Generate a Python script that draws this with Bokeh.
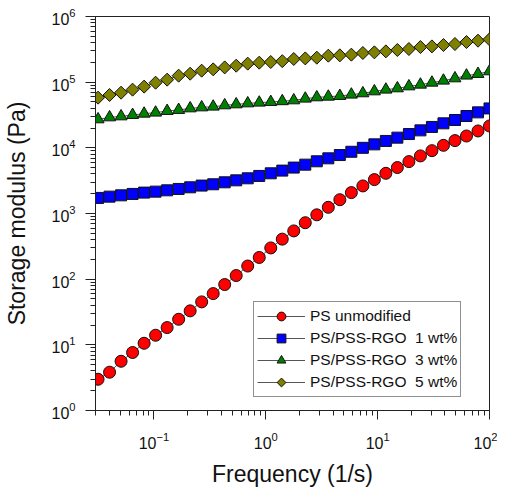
import numpy as np
from bokeh.plotting import figure
from bokeh.models import Legend, LegendItem, LogTicker, LogTickFormatter, CustomJS
from bokeh.embed import file_html
from bokeh.resources import INLINE

freq = [0.03162, 0.04008, 0.05079, 0.06438, 0.0816, 0.1034, 0.1311, 0.1662,
        0.2106, 0.2669, 0.3384, 0.4289, 0.5436, 0.6890, 0.8733, 1.107, 1.403,
        1.778, 2.254, 2.857, 3.621, 4.590, 5.818, 7.375, 9.346, 11.84, 15.01,
        19.03, 24.12, 30.57, 38.75, 49.12, 62.26, 78.91, 100.0]

ps_unmod = [2.99, 3.83, 5.62, 7.64, 10.57, 14.0, 18.3, 24.5, 32.9, 45.1, 60.3,
            82.8, 113.5, 158.5, 214, 299, 407, 543, 724, 955, 1242, 1622, 2080,
            2630, 3281, 4093, 5012, 6166, 7534, 9057, 10914, 12880, 15136,
            18072, 21528]

rgo_1 = [1726, 1807, 1892, 1986, 2080, 2153, 2254, 2366, 2506, 2661, 2786, 2985,
         3199, 3436, 3733, 4093, 4498, 5000, 5546, 6237, 6918, 7762, 8710,
         10000, 11298, 12735, 14289, 16218, 18450, 20797, 23605, 26546, 30549,
         34674, 39811]

rgo_3 = [27164, 29107, 30130, 31623, 33113, 34356, 36392, 37757, 39902, 41305,
         42364, 44361, 45920, 47534, 48753, 49888, 51286, 52845, 56105, 58749,
         60117, 61660, 64565, 67608, 72444, 76913, 80538, 86298, 91622, 98175,
         105441, 114288, 125893, 133352, 146218]

rgo_5 = [58076, 63826, 69183, 76913, 85507, 98175, 109144, 125603, 134586,
         149624, 156675, 167880, 178238, 191426, 198153, 202768, 208930, 225424,
         230144, 236048, 252930, 255859, 262422, 277971, 284446, 294442, 309030,
         319890, 342768, 350752, 368129, 381066, 408319, 428549, 448745]

labels = ["PS unmodified", "PS/PSS-RGO  1 wt%", "PS/PSS-RGO  3 wt%", "PS/PSS-RGO  5 wt%"]

FONT = "Liberation Sans"

diamond_def = CustomJS(code="""
try {
  const d = cb_data || {};
  const ctx = d.ctx, i = d.i, r = d.r, vis = d.visuals;
  ctx.beginPath();
  ctx.moveTo(0, -r);
  ctx.lineTo(r, 0);
  ctx.lineTo(0, r);
  ctx.lineTo(-r, 0);
  ctx.closePath();
  vis.fill.apply(ctx, i);
  vis.line.apply(ctx, i);
} catch (e) {}
""")

p = figure(x_axis_type="log", y_axis_type="log",
           x_range=(0.03, 100), y_range=(1, 1e6),
           frame_width=394, frame_height=394,
           min_border_left=95, min_border_right=8, min_border_top=16, min_border_bottom=72,
           output_backend="svg", toolbar_location=None)

p.xgrid.visible = False
p.ygrid.visible = False
p.outline_line_color = "#222222"
p.outline_line_width = 1
p.background_fill_color = "white"
p.border_fill_color = "white"

for ax in (p.xaxis[0], p.yaxis[0]):
    ax.ticker = LogTicker(num_minor_ticks=10)
    ax.formatter = LogTickFormatter()
    ax.axis_line_color = "#222222"
    ax.major_tick_line_color = "#222222"
    ax.minor_tick_line_color = "#222222"
    ax.major_tick_in = 0
    ax.minor_tick_in = 0
    ax.minor_tick_out = 5
    ax.major_label_text_font = FONT
    ax.major_label_text_font_size = "16px"
    ax.major_label_text_color = "#111111"
    ax.axis_label_text_font = FONT
    ax.axis_label_text_font_size = "23px"
    ax.axis_label_text_font_style = "normal"
    ax.axis_label_text_color = "#111111"

p.xaxis.major_tick_out = 9
p.yaxis.major_tick_out = 10
p.xaxis.major_label_standoff = 12
p.yaxis.major_label_standoff = 10
p.xaxis.axis_label = "Frequency (1/s)"
p.yaxis.axis_label = "Storage modulus (Pa)"
p.xaxis.axis_label_standoff = 9
p.yaxis.axis_label_standoff = 18

series = [
    (ps_unmod, "circle", "#FF0000", 12),
    (rgo_1, "square", "#0000FF", 11),
    (rgo_3, "triangle", "#008000", 12),
    (rgo_5, "@diamond", "#808000", 13),
]

items = []
for (vals, marker, color, size), lab in zip(series, labels):
    ln = p.line(freq, vals, line_color="#555555", line_width=1)
    kw = {}
    if marker.startswith("@"):
        kw["defs"] = {"@diamond": diamond_def}
    sc = p.scatter(freq, vals, marker=marker, size=size,
                   fill_color=color, line_color="#111111", line_width=1, **kw)
    items.append(LegendItem(label=lab, renderers=[ln, sc]))

legend = Legend(items=items, location=(158, 13))
legend.label_text_font = FONT
legend.label_text_font_size = "15.5px"
legend.label_text_color = "#111111"
legend.glyph_width = 48
legend.glyph_height = 22
legend.label_height = 20
legend.spacing = 0
legend.padding = 3
legend.margin = 0
legend.label_standoff = 5
legend.border_line_color = "#222222"
legend.border_line_width = 1
legend.background_fill_alpha = 1.0
p.add_layout(legend, "center")

open("out.html", "w").write(file_html(p, INLINE))
